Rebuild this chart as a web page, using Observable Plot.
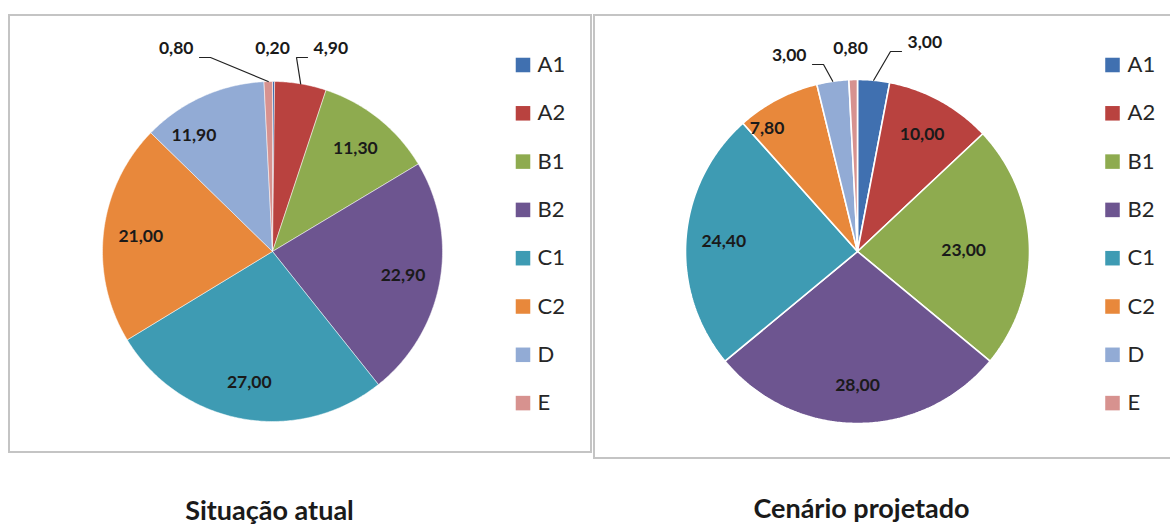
<!DOCTYPE html>
<html><head><meta charset="utf-8">
<script src="https://cdn.jsdelivr.net/npm/d3@7"></script>
<script src="https://cdn.jsdelivr.net/npm/@observablehq/plot@0.6"></script>
<style>
html,body{margin:0;padding:0;background:#fff;}
#wrap{position:relative;width:1170px;height:528px;overflow:hidden;}
.box{position:absolute;border:2px solid #c4c4c4;box-sizing:border-box;}
#chart{position:absolute;left:0;top:0;}
</style></head><body>
<div id="wrap">
<div class="box" style="left:8px;top:14px;width:584px;height:439px"></div>
<div class="box" style="left:593px;top:14px;width:600px;height:445px"></div>
<div id="chart"></div>
</div>
<script>
// ---- data ----
const categories = ["A1", "A2", "B1", "B2", "C1", "C2", "D", "E"];
const atualValues = [0.20, 4.90, 11.30, 22.90, 27.00, 21.00, 11.90, 0.80];
const projetadoValues = [3.00, 10.00, 23.00, 28.00, 24.40, 7.80, 3.00, 0.80];
const chartTitles = ["Situação atual", "Cenário projetado"];

// ---- style / layout ----
const colors = ["#4070b0", "#b9423f", "#8eab4f", "#6d5590", "#3e9bb3", "#e8883b", "#92abd5", "#d7928f"];
const layout = [
  {cx: 272, cy: 251, r: 170, swatchX: 522.5, textX: 537, titleX: 269, titleY: 511, sliceStroke: 0.5,
   outside: {A1: {x: 272, y: 48, anchor: "middle", leader: false}, A2: {x: 313, y: 48, anchor: "start"}, E: {x: 193, y: 48, anchor: "end"}},
   nudge: {D: [-24, 5]}},
  {cx: 857, cy: 251, r: 172, swatchX: 1112, textX: 1127, titleX: 861, titleY: 509, sliceStroke: 1.6,
   outside: {A1: {x: 907, y: 42, anchor: "start"}, E: {x: 850, y: 48, anchor: "middle", leader: false}, D: {x: 806, y: 55, anchor: "end"}},
   nudge: {B1: [-28, 3], C2: [-28, -4]}}
];
const fmt = v => v.toFixed(2).replace(".", ",");

const series = [atualValues, projetadoValues];
const slicePts = [], labels = [], leaders = [], legendRows = [], titleRows = [];
series.forEach((vals, p) => {
  const L = layout[p];
  const pt = (ang, rr) => ({x: L.cx + rr * Math.sin(ang), y: L.cy - rr * Math.cos(ang)});
  const arcs = d3.pie().sort(null).value(d => d)(vals);
  arcs.forEach((a, i) => {
    const cat = categories[i];
    const key = p + "-" + cat;
    slicePts.push({key, cat, panel: p, ...pt(0, 0)});
    const n = Math.max(2, Math.ceil((a.endAngle - a.startAngle) / 0.01) + 1);
    for (let k = 0; k < n; k++) {
      const ang = a.startAngle + (a.endAngle - a.startAngle) * k / (n - 1);
      slicePts.push({key, cat, panel: p, ...pt(ang, L.r)});
    }
    slicePts.push({key, cat, panel: p, ...pt(0, 0)});
    const mid = (a.startAngle + a.endAngle) / 2;
    const text = fmt(vals[i]);
    const o = L.outside[cat];
    if (o) {
      labels.push({x: o.x, y: o.y, text, anchor: o.anchor});
      if (o.leader !== false) {
        const side = o.anchor === "end" ? 1 : -1;
        const s = pt(mid, L.r);
        const ly = o.y + 9;
        leaders.push({key, x: o.x + side * 6, y: ly}, {key, x: o.x + side * 17, y: ly}, {key, ...s});
      }
    } else {
      const c = pt(mid, L.r * 0.78);
      const nd = L.nudge[cat] || [0, 0];
      labels.push({x: c.x + nd[0], y: c.y + nd[1], text, anchor: "middle"});
    }
    legendRows.push({cat, sx: L.swatchX, tx: L.textX, y: 64.5 + i * 48.3});
  });
  titleRows.push({x: L.titleX, y: L.titleY, text: chartTitles[p]});
});

const chart = Plot.plot({
  width: 1170, height: 528, margin: 0,
  style: {background: "transparent", fontFamily: "Lato, sans-serif"},
  x: {domain: [0, 1170], range: [0, 1170], axis: null},
  y: {domain: [0, 528], range: [0, 528], axis: null},
  color: {domain: categories, range: colors},
  marks: [
    ...[0, 1].map(p => Plot.line(slicePts.filter(d => d.panel === p), {
      x: "x", y: "y", z: "key", fill: "cat", stroke: "white", strokeWidth: layout[p].sliceStroke, strokeLinejoin: "miter"
    })),
    Plot.line(leaders, {x: "x", y: "y", z: "key", stroke: "#222", strokeWidth: 1.2, strokeLinejoin: "miter"}),
    ...["start", "middle", "end"].map(an => Plot.text(labels.filter(d => d.anchor === an), {
      x: "x", y: "y", text: "text", textAnchor: an, fontSize: 17.5, fontWeight: "bold", fill: "#1a1a1a"
    })),
    Plot.dot(legendRows, {x: "sx", y: "y", fill: "cat", symbol: "square", r: 8.2}),
    Plot.text(legendRows, {x: "tx", y: "y", text: "cat", textAnchor: "start", fontSize: 22, fill: "#262626"}),
    Plot.text(titleRows, {x: "x", y: "y", text: "text", fontSize: 27, fontWeight: "bold", fill: "#1a1a1a"})
  ]
});
document.getElementById("chart").appendChild(chart);
</script>
</body></html>
